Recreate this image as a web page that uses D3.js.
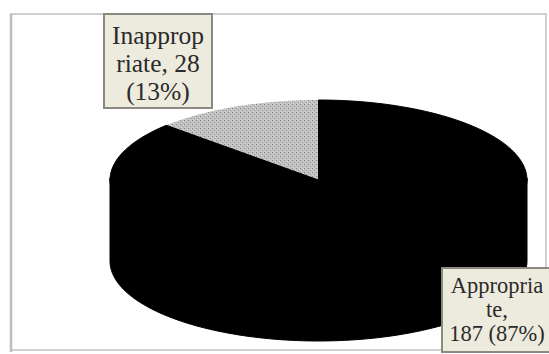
<!DOCTYPE html>
<html>
<head>
<meta charset="utf-8">
<script src="https://cdn.jsdelivr.net/npm/d3@7"></script>
<style>
  html, body { margin: 0; padding: 0; background: #fff; }
  svg { display: block; }
</style>
</head>
<body>
<svg id="chart" width="549" height="354"></svg>
<script>
// Appropriateness of use: counts and shares
const categories = ["Inappropriate", "Appropriate"];
const counts = [28, 187];
const percents = [13, 87];
// Wrapped label text as set in the data-label boxes
const labelLines = [
  ["Inapprop", "riate, " + counts[0], "(" + percents[0] + "%)"],
  ["Appropria", "te,", counts[1] + " (" + percents[1] + "%)"]
];

const svg = d3.select("#chart");

// Chart frame
svg.append("rect")
  .attr("x", 11).attr("y", 14).attr("width", 535).attr("height", 336)
  .attr("fill", "#fff").attr("stroke", "#cfcfcf").attr("stroke-width", 2);
svg.append("line")
  .attr("x1", 11).attr("y1", 14).attr("x2", 11).attr("y2", 352)
  .attr("stroke", "#bdbdbd").attr("stroke-width", 2.5);

// Fine stipple used for the small slice
const defs = svg.append("defs");
const pat = defs.append("pattern")
  .attr("id", "stipple").attr("patternUnits", "userSpaceOnUse")
  .attr("width", 4).attr("height", 4);
pat.append("rect").attr("width", 4).attr("height", 4).attr("fill", "#c2c2c2");
pat.append("rect").attr("x", 0).attr("y", 0).attr("width", 1).attr("height", 1).attr("fill", "#858585");
pat.append("rect").attr("x", 2).attr("y", 2).attr("width", 1).attr("height", 1).attr("fill", "#959595");
pat.append("rect").attr("x", 1).attr("y", 3).attr("width", 1).attr("height", 1).attr("fill", "#dadada");
pat.append("rect").attr("x", 3).attr("y", 1).attr("width", 1).attr("height", 1).attr("fill", "#d6d6d6");

// 3-D pie geometry
const cx = 318.5, cy = 180, rx = 208.5, ry = 80, depth = 81;
const fills = ["url(#stipple)", "#000"];

const total = d3.sum(counts);
const startA = -2 * Math.PI * counts[0] / total;
const pie = d3.pie().sort(null).value(d => d)
  .startAngle(startA).endAngle(startA + 2 * Math.PI);
const arcs = pie(counts);

// Angle measured clockwise from 12 o'clock, projected onto the tilted ellipse
const px = a => cx + rx * Math.sin(a);
const py = (a, dz = 0) => cy - ry * Math.cos(a) + dz;
const line = d3.line().x(d => d[0]).y(d => d[1]);
const samples = (a0, a1) => d3.range(0, 121).map(i => a0 + (a1 - a0) * i / 120);

// Side walls: only the front half (PI/2..3PI/2) is visible
arcs.forEach((d, i) => {
  const a0 = Math.max(d.startAngle, Math.PI / 2);
  const a1 = Math.min(d.endAngle, 3 * Math.PI / 2);
  if (a1 <= a0) return;
  const top = samples(a0, a1).map(a => [px(a), py(a, -2)]);
  const bottom = samples(a1, a0).map(a => [px(a), py(a, depth)]);
  svg.append("path")
    .attr("d", line(top.concat(bottom)) + "Z")
    .attr("fill", "#000").attr("stroke", "#000").attr("stroke-width", 1);
});

// Top faces
arcs.forEach((d, i) => {
  const pts = [[cx, cy]].concat(samples(d.startAngle, d.endAngle).map(a => [px(a), py(a)]));
  svg.append("path")
    .attr("d", line(pts) + "Z")
    .attr("fill", fills[i])
    .attr("stroke", i === 1 ? "#000" : "none").attr("stroke-width", 1);
});

// Data-label boxes
const boxes = [
  { x: 104, y: 14, w: 108, h: 94, size: 25.5, cxText: 158, y0: 44, dy: 28 },
  { x: 442, y: 268, w: 112, h: 84, size: 22.5, cxText: 497, y0: 293, dy: 24 }
];
boxes.forEach((b, i) => {
  svg.append("rect")
    .attr("x", b.x).attr("y", b.y).attr("width", b.w).attr("height", b.h)
    .attr("fill", "#edeade").attr("stroke", "#8a8a80").attr("stroke-width", 2);
  const t = svg.append("text")
    .attr("text-anchor", "middle")
    .attr("font-family", "'Liberation Serif', 'Times New Roman', serif")
    .attr("font-size", b.size)
    .attr("fill", "#2a2a2a");
  labelLines[i].forEach((s, k) => {
    t.append("tspan").attr("x", b.cxText).attr("y", b.y0 + k * b.dy).text(s);
  });
});
</script>
</body>
</html>
